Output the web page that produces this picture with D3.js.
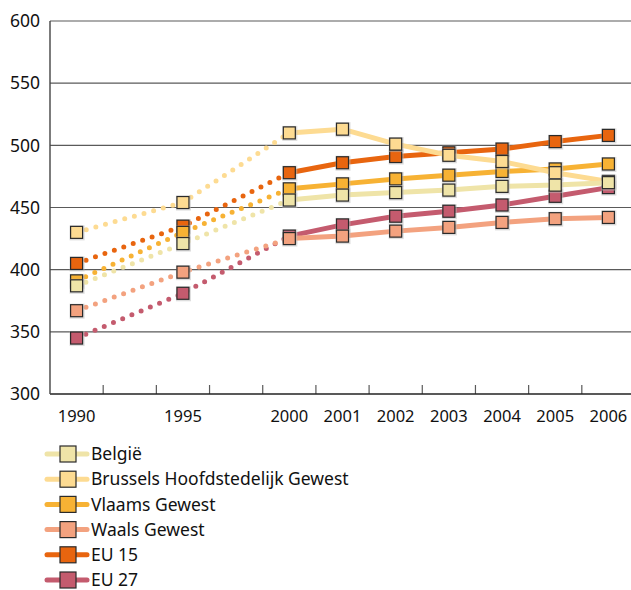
<!DOCTYPE html>
<html>
<head>
<meta charset="utf-8">
<script src="https://cdn.jsdelivr.net/npm/d3@7"></script>
<style>
  body { margin: 0; background: #fff; }
  text { font-family: "Noto Sans", sans-serif; fill: #111; }
</style>
</head>
<body>
<svg id="chart" width="631" height="590"></svg>
<script>
// categories: the empty slots keep the gaps between 1990, 1995 and 2000
const slots = ["1990", "_a", "1995", "_b", "2000", "2001", "2002", "2003", "2004", "2005", "2006"];
const years = ["1990", "1995", "2000", "2001", "2002", "2003", "2004", "2005", "2006"];
const yTicks = [300, 350, 400, 450, 500, 550, 600];

const seriesNames = ["België", "Brussels Hoofdstedelijk Gewest", "Vlaams Gewest", "Waals Gewest", "EU 15", "EU 27"];
const seriesColors = ["#efe4a8", "#fddb92", "#f7b234", "#f3a27f", "#e8650f", "#c45b6e"];

const belgie   = [387, 421, 456, 460, 462, 464, 467, 468, 470];
const brussels = [430, 454, 510, 513, 501, 492, 487, 478, 471];
const vlaams   = [391, 430, 465, 469, 473, 476, 479, 481, 485];
const waals    = [367, 398, 425, 427, 431, 434, 438, 441, 442];
const eu15     = [405, 435, 478, 486, 491, 494, 497, 503, 508];
const eu27     = [345, 381, 427, 436, 443, 447, 452, 459, 466];
const allValues = [belgie, brussels, vlaams, waals, eu15, eu27];

const series = seriesNames.map((name, i) => ({
    name: name,
    color: seriesColors[i],
    points: years.map((y, j) => ({ year: y, value: allValues[i][j] }))
}));

const margin = { top: 21, left: 50 };
const plotW = 585, plotH = 373;

const svg = d3.select("#chart");
const g = svg.append("g").attr("transform", `translate(${margin.left},${margin.top})`);

const x = d3.scaleBand().domain(slots).range([0, plotW]);
const y = d3.scaleLinear().domain([300, 600]).range([plotH, 0]);
const cx = d => x(d.year) + x.bandwidth() / 2;

// horizontal grid
g.selectAll(".grid").data(yTicks.filter(t => t > 300)).join("line")
    .attr("x1", 0).attr("x2", plotW + 10)
    .attr("y1", d => y(d)).attr("y2", d => y(d))
    .attr("stroke", "#5a5a5a").attr("stroke-width", 1.2);

// y labels
g.selectAll(".ylab").data(yTicks).join("text")
    .attr("x", -10).attr("y", d => y(d)).attr("dy", "0.36em")
    .attr("text-anchor", "end").style("font-size", "17.5px")
    .text(d => d);

// x axis: tick marks at slot boundaries, pointing up
const bounds = slots.slice(1).map(s => x(s));
g.selectAll(".xtick").data(bounds).join("line")
    .attr("x1", d => d).attr("x2", d => d)
    .attr("y1", plotH).attr("y2", plotH - 9)
    .attr("stroke", "#5a5a5a").attr("stroke-width", 1.2);

g.append("line").attr("x1", 0).attr("x2", plotW).attr("y1", plotH).attr("y2", plotH)
    .attr("stroke", "#222").attr("stroke-width", 1.4);
g.append("line").attr("x1", 0).attr("x2", 0).attr("y1", 0).attr("y2", plotH)
    .attr("stroke", "#444").attr("stroke-width", 1.4);

g.selectAll(".xlab").data(years).join("text")
    .attr("x", d => x(d) + x.bandwidth() / 2).attr("y", plotH + 28)
    .attr("text-anchor", "middle").style("font-size", "16.5px")
    .text(d => d);

// lines: dotted up to 2000, solid afterwards
const line = d3.line().x(cx).y(d => y(d.value));
const drawOrder = series.slice().reverse();

drawOrder.forEach(s => {
    const sg = g.append("g");
    sg.append("path").attr("d", line(s.points.slice(0, 3)))
        .attr("fill", "none").attr("stroke", s.color).attr("stroke-width", 5)
        .attr("stroke-linecap", "round").attr("stroke-dasharray", "0,10");
    sg.append("path").attr("d", line(s.points.slice(2)))
        .attr("fill", "none").attr("stroke", s.color).attr("stroke-width", 5)
        .attr("stroke-linejoin", "round");
    const m = 12;
    sg.selectAll("rect.halo").data(s.points).join("rect")
        .attr("x", d => cx(d) - m / 2 - 1).attr("y", d => y(d.value) - m / 2 - 1)
        .attr("width", m + 3).attr("height", m + 3)
        .attr("fill", "#bbb").attr("opacity", 0.5);
    sg.selectAll("rect.mark").data(s.points).join("rect")
        .attr("x", d => cx(d) - m / 2).attr("y", d => y(d.value) - m / 2)
        .attr("width", m).attr("height", m)
        .attr("fill", s.color).attr("stroke", "#2a2a2a").attr("stroke-width", 1.2);
});

// legend
const legend = svg.append("g").attr("transform", "translate(47,454)");
const rowH = 25.2;
series.forEach((s, i) => {
    const row = legend.append("g").attr("transform", `translate(0,${i * rowH})`);
    row.append("line").attr("x1", 0).attr("x2", 40).attr("y1", 0).attr("y2", 0)
        .attr("stroke", s.color).attr("stroke-width", 5).attr("stroke-linecap", "round");
    row.append("rect").attr("x", 13).attr("y", -8).attr("width", 16).attr("height", 16)
        .attr("fill", s.color).attr("stroke", "#2a2a2a").attr("stroke-width", 1.2);
    row.append("text").attr("x", 44).attr("y", 0).attr("dy", "0.35em")
        .style("font-size", "17.5px").text(s.name);
});
</script>
</body>
</html>
